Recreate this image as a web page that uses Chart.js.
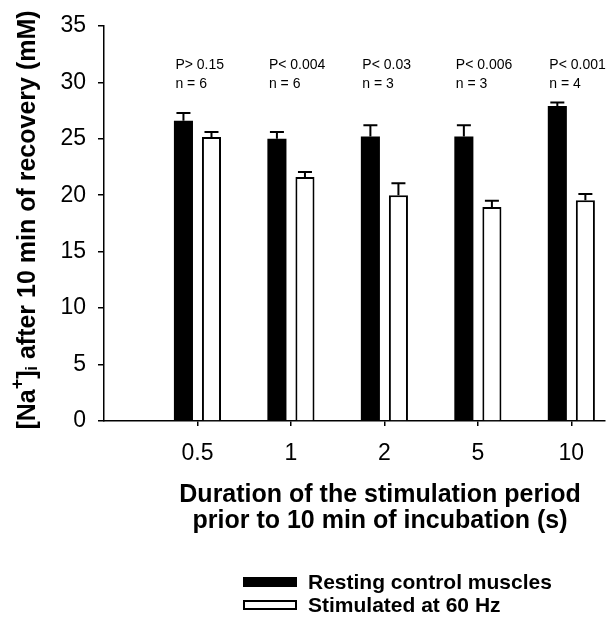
<!DOCTYPE html>
<html>
<head>
<meta charset="utf-8">
<script src="https://cdn.jsdelivr.net/npm/chart.js@4.4.1/dist/chart.umd.min.js"></script>
<style>
  html, body { margin: 0; padding: 0; background: #fff; }
  #wrap { width: 606px; height: 621px; position: relative; }
</style>
</head>
<body>
<div id="wrap"><canvas id="naChart"></canvas></div>
<script>
// durations of the stimulation period (s)
const durations = ["0.5", "1", "2", "5", "10"];
const seriesNames = ["Resting control muscles", "Stimulated at 60 Hz"];

// [Na+]i after 10 min of recovery (mM), mean and SEM
const restingMean = [26.6, 25.0, 25.2, 25.2, 27.9];
const restingSem = [0.67, 0.6, 1.0, 1.0, 0.3];
const stimMean = [25.15, 21.6, 20.0, 18.95, 19.55];
const stimSem = [0.45, 0.45, 1.05, 0.55, 0.55];

// stats above each group
const pLabels = ["P> 0.15", "P< 0.004", "P< 0.03", "P< 0.006", "P< 0.001"];
const nLabels = ["n = 6", "n = 6", "n = 3", "n = 3", "n = 4"];

const yTicks = [0, 5, 10, 15, 20, 25, 30, 35];

const FONT = "'Liberation Sans', Arial, Helvetica, sans-serif";

document.addEventListener("DOMContentLoaded", function () {
  const ctx = document.getElementById("naChart").getContext("2d");

  // error bars (upper half only) on top of each bar
  const errorBars = {
    id: "errorBars",
    afterDatasetsDraw(chart) {
      const c = chart.ctx;
      const y = chart.scales.y;
      const sems = [restingSem, stimSem];
      c.save();
      c.strokeStyle = "#000";
      c.lineWidth = 2;
      chart.data.datasets.forEach((ds, di) => {
        const meta = chart.getDatasetMeta(di);
        meta.data.forEach((bar, i) => {
          const top = y.getPixelForValue(ds.data[i].y + sems[di][i]);
          c.beginPath();
          c.moveTo(bar.x, bar.y);
          c.lineTo(bar.x, top);
          c.moveTo(bar.x - 7, top);
          c.lineTo(bar.x + 7, top);
          c.stroke();
        });
      });
      c.restore();
    },
  };

  // P values, n, axis titles and legend
  const extras = {
    id: "extras",
    afterDraw(chart) {
      const c = chart.ctx;
      const y = chart.scales.y;
      c.save();
      c.fillStyle = "#000";

      // stats text, left aligned with the black bar
      c.font = "14px " + FONT;
      c.textAlign = "left";
      c.textBaseline = "alphabetic";
      const blackMeta = chart.getDatasetMeta(0);
      blackMeta.data.forEach((bar, i) => {
        const left = bar.x - bar.width / 2 + 1.5;
        c.fillText(pLabels[i], left, y.getPixelForValue(31.2));
        c.fillText(nLabels[i], left, y.getPixelForValue(29.45));
      });

      // y title with superscript and subscript
      const parts = [
        { t: "[Na", size: 25, dy: 0 },
        { t: "+", size: 18, dy: -12 },
        { t: "]", size: 25, dy: 0 },
        { t: "i", size: 16, dy: 2 },
        { t: " after 10 min of recovery (mM)", size: 25, dy: 0 },
      ];
      let total = 0;
      parts.forEach((p) => {
        c.font = "bold " + p.size + "px " + FONT;
        p.w = c.measureText(p.t).width;
        total += p.w;
      });
      c.save();
      c.translate(35, 220);
      c.rotate(-Math.PI / 2);
      let px = -total / 2;
      parts.forEach((p) => {
        c.font = "bold " + p.size + "px " + FONT;
        c.fillText(p.t, px, p.dy);
        px += p.w;
      });
      c.restore();

      // x title
      c.font = "bold 25px " + FONT;
      c.textAlign = "center";
      c.fillText("Duration of the stimulation period", 380, 502);
      c.fillText("prior to 10 min of incubation (s)", 380, 528);

      // legend
      c.textAlign = "left";
      c.textBaseline = "middle";
      c.font = "bold 21px " + FONT;
      c.fillRect(243, 577, 54, 10);
      c.fillText(seriesNames[0], 308, 583);
      c.lineWidth = 2;
      c.strokeRect(244, 601, 52, 8);
      c.fillText(seriesNames[1], 308, 606);

      c.restore();
    },
  };

  const naChart = new Chart(ctx, {
    type: "bar",
    data: {
      datasets: [
        {
          label: seriesNames[0],
          data: restingMean.map((v, i) => ({ x: i + 1, y: v })),
          backgroundColor: "#000",
          borderColor: "#000",
          borderWidth: 0,
        },
        {
          label: seriesNames[1],
          data: stimMean.map((v, i) => ({ x: i + 1, y: v })),
          backgroundColor: "#fff",
          borderColor: "#000",
          borderWidth: 2,
        },
      ],
    },
    options: {
      responsive: true,
      maintainAspectRatio: false,
      animation: false,
      devicePixelRatio: 1,
      categoryPercentage: 0.6,
      barPercentage: 0.68,
      layout: { padding: { top: 24, right: 1, left: 0, bottom: 0 } },
      scales: {
        x: {
          type: "linear",
          min: 0,
          max: 5.36,
          offset: false,
          afterBuildTicks: function (scale) {
            scale.ticks = durations.map((d, i) => ({ value: i + 1 }));
          },
          afterFit: function (scale) {
            scale.height = 200;
          },
          ticks: {
            callback: function (value) {
              return durations[value - 1];
            },
            color: "#000",
            font: { family: FONT, size: 23 },
            padding: 14,
            maxRotation: 0,
            autoSkip: false,
          },
          grid: {
            offset: false,
            drawOnChartArea: false,
            tickLength: 5,
            color: "#000",
            lineWidth: 1.5,
          },
          border: { color: "#000", width: 1.5 },
        },
        y: {
          min: 0,
          max: 35,
          afterBuildTicks: function (scale) {
            scale.ticks = yTicks.map((v) => ({ value: v }));
          },
          afterFit: function (scale) {
            scale.width = 104;
          },
          ticks: {
            color: "#000",
            font: { family: FONT, size: 23 },
            padding: 12,
          },
          grid: {
            drawOnChartArea: false,
            tickLength: 6,
            color: "#000",
            lineWidth: 1.5,
          },
          border: { color: "#000", width: 1.5 },
        },
      },
      plugins: {
        legend: { display: false },
        tooltip: { enabled: false },
      },
    },
    plugins: [errorBars, extras],
  });
});
</script>
</body>
</html>
